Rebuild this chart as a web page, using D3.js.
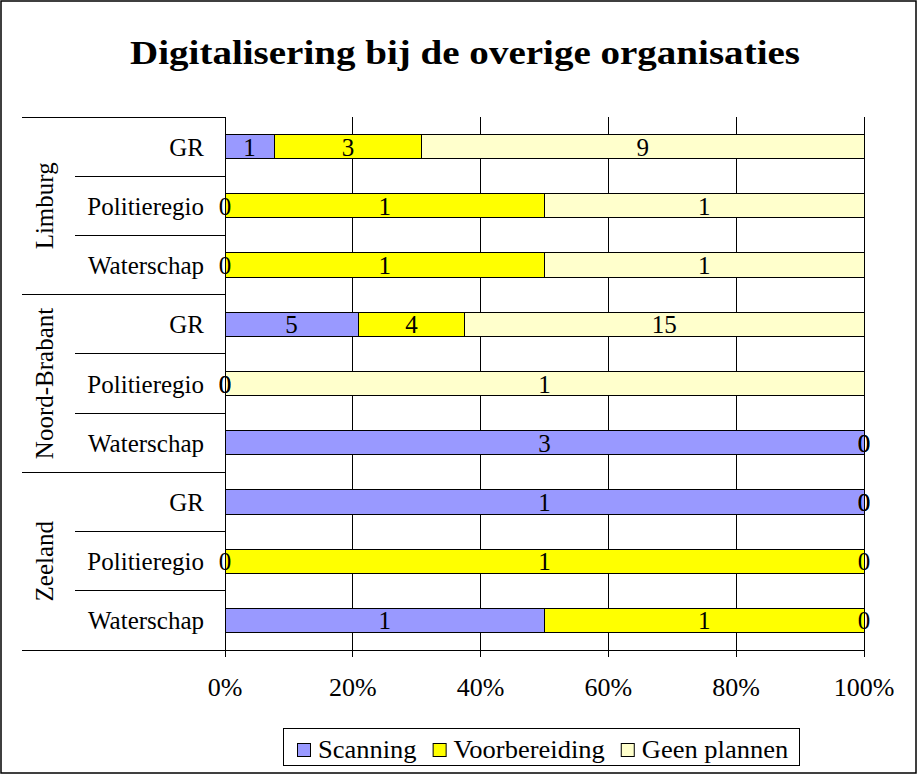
<!DOCTYPE html>
<html><head><meta charset="utf-8">
<script src="https://cdn.jsdelivr.net/npm/d3@7"></script>
<style>body{margin:0;background:#fff}svg{display:block}</style>
</head><body>
<script>
const regions = ["Limburg", "Noord-Brabant", "Zeeland"];
const types = ["GR", "Politieregio", "Waterschap"];
const seriesNames = ["Scanning", "Voorbereiding", "Geen plannen"];
const scanning      = [1, 0, 0, 5, 0, 3, 1, 0, 1];
const voorbereiding = [3, 1, 1, 4, 0, 0, 0, 1, 1];
const geenPlannen   = [9, 1, 1, 15, 1, 0, 0, 0, 0];
const tickLabels = ["0%", "20%", "40%", "60%", "80%", "100%"];
const tickValues = [0, 0.2, 0.4, 0.6, 0.8, 1];
const colors = ["#9999FF", "#FFFF00", "#FFFFCC"];

const W = 917, H = 774;
const FONT = "'Liberation Serif', 'Times New Roman', serif";
const svg = d3.select("body").append("svg").attr("width", W).attr("height", H);
svg.append("rect").attr("x", 1).attr("y", 1).attr("width", W - 2).attr("height", H - 2)
  .attr("fill", "#fff").attr("stroke", "#000").attr("stroke-width", 1.5);

svg.append("text").attr("x", 465).attr("y", 64).attr("text-anchor", "middle")
  .attr("font-family", FONT).attr("font-weight", "bold").attr("font-size", 33)
  .attr("textLength", 670).attr("lengthAdjust", "spacingAndGlyphs")
  .text("Digitalisering bij de overige organisaties");

const plotL = 225, plotR = 864, plotT = 117, plotB = 650;
const rows = [];
regions.forEach((r, i) => types.forEach((t, j) => rows.push({region: r, type: t, idx: i * 3 + j})));
const data = rows.map((d, k) => {
  const vals = [scanning[k], voorbereiding[k], geenPlannen[k]];
  const tot = d3.sum(vals);
  let acc = 0;
  return {...d, segs: vals.map((v, s) => { const x0 = acc / tot; acc += v; return {v, s, x0, x1: acc / tot}; })};
});

const x = d3.scaleLinear().domain([0, 1]).range([plotL, plotR]);
const y = d3.scaleBand().domain(d3.range(rows.length)).range([plotT, plotB]).padding(0);
const barH = y.bandwidth() * 0.41;

// gridlines + ticks
svg.append("g").selectAll("line").data(tickValues).join("line")
  .attr("x1", d => x(d)).attr("x2", d => x(d)).attr("y1", plotT).attr("y2", plotB + 7)
  .attr("stroke", "#000").attr("stroke-width", 1).attr("shape-rendering", "crispEdges");
svg.append("g").selectAll("text").data(tickValues).join("text")
  .attr("x", d => x(d)).attr("y", plotB + 46).attr("text-anchor", "middle")
  .attr("font-family", FONT).attr("font-size", 26).text((d, i) => tickLabels[i]);

// bars
const bars = svg.append("g");
data.forEach(d => {
  bars.selectAll(null).data(d.segs.filter(s => s.v > 0)).join("rect")
    .attr("x", s => x(s.x0)).attr("width", s => x(s.x1) - x(s.x0))
    .attr("y", y(d.idx) + (y.bandwidth() - barH) / 2).attr("height", barH)
    .attr("fill", s => colors[s.s]).attr("stroke", "#000").attr("stroke-width", 1)
    .attr("shape-rendering", "crispEdges");
});
// value labels
const labels = svg.append("g");
data.forEach(d => {
  labels.selectAll(null).data(d.segs).join("text")
    .attr("x", s => x((s.x0 + s.x1) / 2)).attr("y", y(d.idx) + y.bandwidth() / 2 + 9)
    .attr("text-anchor", "middle").attr("font-family", FONT).attr("font-size", 25)
    .text(s => s.v);
});

// category axis
const ax = svg.append("g").attr("stroke", "#000").attr("stroke-width", 1).attr("shape-rendering", "crispEdges");
ax.append("line").attr("x1", plotL).attr("x2", plotL).attr("y1", plotT).attr("y2", plotB + 7);
ax.append("line").attr("x1", 22).attr("x2", plotR).attr("y1", plotB).attr("y2", plotB);
regions.forEach((r, i) => {
  ax.append("line").attr("x1", 22).attr("x2", plotL).attr("y1", y(i * 3)).attr("y2", y(i * 3));
  [1, 2].forEach(j => ax.append("line").attr("x1", 75).attr("x2", plotL)
    .attr("y1", y(i * 3 + j)).attr("y2", y(i * 3 + j)));
});
svg.append("g").selectAll("text").data(rows).join("text")
  .attr("x", 204).attr("y", d => y(d.idx) + y.bandwidth() / 2 + 9).attr("text-anchor", "end")
  .attr("font-family", FONT).attr("font-size", 25).text(d => d.type);
svg.append("g").selectAll("text").data(regions).join("text")
  .attr("transform", (r, i) => `translate(53,${(y(i * 3) + y(i * 3 + 2) + y.bandwidth()) / 2}) rotate(-90)`)
  .attr("text-anchor", "middle").attr("font-family", FONT).attr("font-size", 25).text(d => d);

// legend
const lg = svg.append("g");
lg.append("rect").attr("x", 283.5).attr("y", 728.5).attr("width", 516).attr("height", 37)
  .attr("fill", "#fff").attr("stroke", "#000").attr("stroke-width", 1);
let lx = 297;
seriesNames.forEach((n, i) => {
  lg.append("rect").attr("x", lx + 0.5).attr("y", 743.5).attr("width", 13).attr("height", 13)
    .attr("fill", colors[i]).attr("stroke", "#000").attr("stroke-width", 1);
  const t = lg.append("text").attr("x", lx + 21).attr("y", 758).attr("font-family", FONT)
    .attr("font-size", 25).text(n);
  const w = t.node().getComputedTextLength() * 1.06;
  t.attr("textLength", w).attr("lengthAdjust", "spacingAndGlyphs");
  lx += 21 + w + 16;
});
</script>
</body></html>
